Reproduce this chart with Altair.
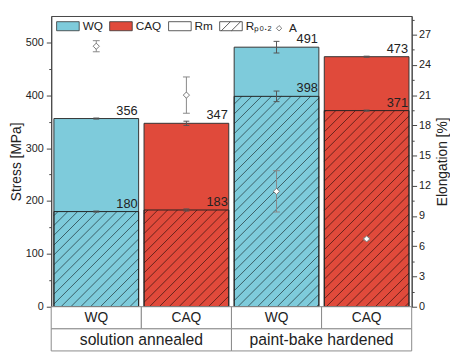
import altair as alt
import numpy as np
import pandas as pd

# ---------------- data ----------------
states = ["solution annealed", "paint-bake hardened"]
quench = ["WQ", "CAQ", "WQ", "CAQ"]
rm = [356, 347, 491, 473]
rm_err = [1, 4, 11, 1]
rp = [180, 183, 398, 371]
rp_err = [1, 2, 10, 1]
elong = [25.85, 21.0, 11.45, 6.73]
elong_err = [0.55, 1.8, 2.05, 0.1]
legend_labels = ["WQ", "CAQ", "Rm", "Rₚ₀.₂"]
legend_point = "A"

BLUE = "#7ecbdb"
RED = "#e04a3b"
INK = "#222222"
FONT = "Liberation Sans"

W, H = 367, 296
Y_MAX = 550
E_MAX = 28.85
BAR_PAD = 0.03
PXU = W / 4.0
PYU = H / Y_MAX
CAP = 3.0 / PXU
ECAP = 3.5 / PXU

idx = np.arange(4)
bars = pd.DataFrame({
    "x0": idx + BAR_PAD,
    "x1": idx + 1 - BAR_PAD,
    "xc": idx + 0.5,
    "quench": quench,
    "rm": rm,
    "rp": rp,
    "zero": 0,
})

err_rows = []
for i in range(4):
    for v, e in ((rm[i], rm_err[i]), (rp[i], rp_err[i])):
        err_rows.append({"xc": i + 0.5, "xl": i + 0.5 - CAP, "xr": i + 0.5 + CAP,
                         "lo": v - e, "hi": v + e})
err = pd.DataFrame(err_rows)

labels = pd.DataFrame({
    "x": list(idx + 1 - BAR_PAD) * 2,
    "v": rm + rp,
})

el = pd.DataFrame({
    "xc": idx + 0.5,
    "xl": idx + 0.5 - ECAP,
    "xr": idx + 0.5 + ECAP,
    "e": elong,
    "lo": np.array(elong) - np.array(elong_err),
    "hi": np.array(elong) + np.array(elong_err),
})

# hatch lines ("/") inside the Rp0.2 part of each bar
SP = 10.0
segs = []
for i in range(4):
    X0, X1 = (i + BAR_PAD) * PXU, (i + 1 - BAR_PAD) * PXU
    Hp = rp[i] * PYU
    for c in np.arange(np.floor((X0 - Hp) / SP) * SP, X1, SP):
        xa, xb = max(X0, c), min(X1, c + Hp)
        if xb - xa > 0.5:
            segs.append({"hx0": xa / PXU, "hy0": (xa - c) / PYU,
                         "hx1": xb / PXU, "hy1": (xb - c) / PYU})
hatch = pd.DataFrame(segs)

leg = pd.DataFrame({"item": legend_labels, "x": 0.5, "y": -100})
leg_a = pd.DataFrame({"one": [1.0], "x": [0.5], "y": [-100]})

# ---------------- scales / axes ----------------
xs = alt.Scale(domain=[0, 4], nice=False, zero=False)
ys = alt.Scale(domain=[0, Y_MAX], nice=False, zero=False)
es = alt.Scale(domain=[0, E_MAX], nice=False, zero=False)

stress_axis = alt.Axis(
    title="Stress [MPa]", orient="left", values=list(range(0, 501, 50)),
    labelExpr="datum.value % 100 == 0 ? datum.label : ''", format="d",
    tickSize={"condition": {"test": "datum.value % 100 != 0", "value": 2.5}, "value": 5},
    grid=False, domainColor="#444", tickColor="#444", labelFontSize=11,
    titleFontSize=14, labelPadding=3, titlePadding=2, labelColor=INK,
    titleColor=INK, titleFontWeight="normal", labelFont=FONT, titleFont=FONT,
)
elong_axis = alt.Axis(
    title="Elongation [%]", orient="right", values=[i * 1.5 for i in range(20)],
    labelExpr="datum.value % 3 == 0 ? datum.label : ''", format="d",
    tickSize={"condition": {"test": "datum.value % 3 != 0", "value": 2.5}, "value": 5},
    grid=False, domainColor="#444", tickColor="#444", labelFontSize=11,
    titleFontSize=14, labelPadding=2, titlePadding=5, labelColor=INK,
    titleColor=INK, titleFontWeight="normal", titleAngle=270, titleBaseline="top",
    labelFont=FONT, titleFont=FONT,
)


def X(f):
    return alt.X(f, type="quantitative", scale=xs, axis=None)


def YS(f):
    return alt.Y(f, type="quantitative", scale=ys, axis=stress_axis)


def YE(f):
    return alt.Y(f, type="quantitative", scale=es, axis=elong_axis)


fill_enc = alt.Fill("quench:N", scale=alt.Scale(domain=["WQ", "CAQ"], range=[BLUE, RED]), legend=None)

rm_bars = alt.Chart(bars).mark_rect(stroke="#333", strokeWidth=1).encode(
    x=X("x0"), x2="x1", y=YS("rm"), y2="zero", fill=fill_enc)

hatch_l = alt.Chart(hatch).mark_rule(color="black", opacity=0.6, strokeWidth=0.9).encode(
    x=X("hx0"), x2="hx1", y=YS("hy0"), y2="hy1")

rp_bars = alt.Chart(bars).mark_rect(fillOpacity=0, stroke="#222", strokeWidth=1).encode(
    x=X("x0"), x2="x1", y=YS("rp"), y2="zero")

err_v = alt.Chart(err).mark_rule(color="#555", strokeWidth=1).encode(
    x=X("xc"), y=YS("lo"), y2="hi")
err_lo = alt.Chart(err).mark_rule(color="#555", strokeWidth=1).encode(
    x=X("xl"), x2="xr", y=YS("lo"))
err_hi = alt.Chart(err).mark_rule(color="#555", strokeWidth=1).encode(
    x=X("xl"), x2="xr", y=YS("hi"))

txt = alt.Chart(labels).mark_text(align="right", baseline="bottom", dx=-1, dy=-1,
                                  fontSize=13, font=FONT, color=INK).encode(
    x=X("x"), y=YS("v"), text=alt.Text("v:Q", format="d"))

rect_p = "M-1,-0.4H1V0.4H-1Z"
hatch_p = "M-1,-0.4H1V0.4H-1Z M-0.85,0.4L-0.05,-0.4 M0.05,0.4L0.85,-0.4"
leg_kw = dict(title=None, orient="none", legendX=5, legendY=-2, direction="horizontal",
              columns=4, columnPadding=4, labelOffset=3, symbolSize=529, labelFontSize=12,
              labelFont=FONT, labelColor=INK, padding=0, symbolStrokeColor="#333",
              symbolStrokeWidth=0.8, rowPadding=0)
legend_layer = alt.Chart(leg).mark_point(filled=True, clip=True, stroke="#333", strokeWidth=0.8,
                                         opacity=1).encode(
    x=X("x"), y=YS("y"),
    shape=alt.Shape("item:N", scale=alt.Scale(domain=legend_labels,
                                              range=[rect_p, rect_p, rect_p, hatch_p]),
                    legend=alt.Legend(**leg_kw)),
    color=alt.Color("item:N", scale=alt.Scale(domain=legend_labels,
                                              range=[BLUE, RED, "white", "white"]),
                    legend=alt.Legend(**leg_kw)),
)

legend_a = alt.Chart(leg_a).mark_point(shape="diamond", filled=False, color="#777",
                                       strokeWidth=1, size=30, clip=True).encode(
    x=X("x"), y=YS("y"),
    opacity=alt.Opacity("one:Q", scale=alt.Scale(domain=[0, 1], range=[1, 1]),
                        legend=alt.Legend(title=None, orient="none", legendX=226, legendY=6.5,
                                          values=[1], labelExpr=f"'{legend_point}'",
                                          labelOffset=4, labelFontSize=12, labelFont=FONT,
                                          labelColor=INK, padding=0, symbolSize=30,
                                          symbolType="diamond", symbolStrokeColor="#777",
                                          symbolStrokeWidth=1)),
)

stress_layer = alt.layer(rm_bars, hatch_l, rp_bars, err_v, err_lo, err_hi, txt,
                         legend_layer, legend_a)

e_v = alt.Chart(el).mark_rule(color="#888", strokeWidth=1).encode(x=X("xc"), y=YE("lo"), y2="hi")
e_lo = alt.Chart(el).mark_rule(color="#888", strokeWidth=1).encode(x=X("xl"), x2="xr", y=YE("lo"))
e_hi = alt.Chart(el).mark_rule(color="#888", strokeWidth=1).encode(x=X("xl"), x2="xr", y=YE("hi"))
e_pt = alt.Chart(el).mark_point(shape="diamond", filled=True, fill="white", stroke="#777",
                                strokeWidth=1, size=40, opacity=1).encode(x=X("xc"), y=YE("e"))
elong_layer = alt.layer(e_v, e_lo, e_hi, e_pt)

top = alt.layer(stress_layer, elong_layer).resolve_scale(y="independent").properties(
    width=W, height=H, view=alt.ViewBackground(stroke="#444", strokeWidth=1))

# ---------------- category table under the plot ----------------
cells = pd.DataFrame({
    "c0": [0, 1, 2, 3, 0, 2],
    "c1": [1, 2, 3, 4, 2, 4],
    "r0": [1, 1, 1, 1, 0, 0],
    "r1": [2, 2, 2, 2, 1, 1],
    "label": quench + states,
    "fs": [14, 14, 14, 14, 16, 16],
})
cells["cx"] = (cells["c0"] + cells["c1"]) / 2
cells["cy"] = (cells["r0"] + cells["r1"]) / 2
ts = alt.Scale(domain=[0, 2], nice=False, zero=False)
tab_rect = alt.Chart(cells).mark_rect(fill="white", stroke="#8a8a8a", strokeWidth=1).encode(
    x=X("c0"), x2="c1", y=alt.Y("r0:Q", scale=ts, axis=None), y2="r1")
tab_txt = alt.Chart(cells).mark_text(font=FONT, color=INK, baseline="middle").encode(
    x=X("cx"), y=alt.Y("cy:Q", scale=ts, axis=None), text="label:N",
    size=alt.Size("fs:Q", scale=None, legend=None))
table = alt.layer(tab_rect, tab_txt).properties(
    width=W, height=45, view=alt.ViewBackground(strokeOpacity=0))

chart = alt.vconcat(top, table, spacing=0, bounds="flush").configure(
    font=FONT, padding={"left": 1, "top": 3, "right": 0, "bottom": 0})

chart.save("out.html", embed_options={"renderer": "svg", "actions": False})
